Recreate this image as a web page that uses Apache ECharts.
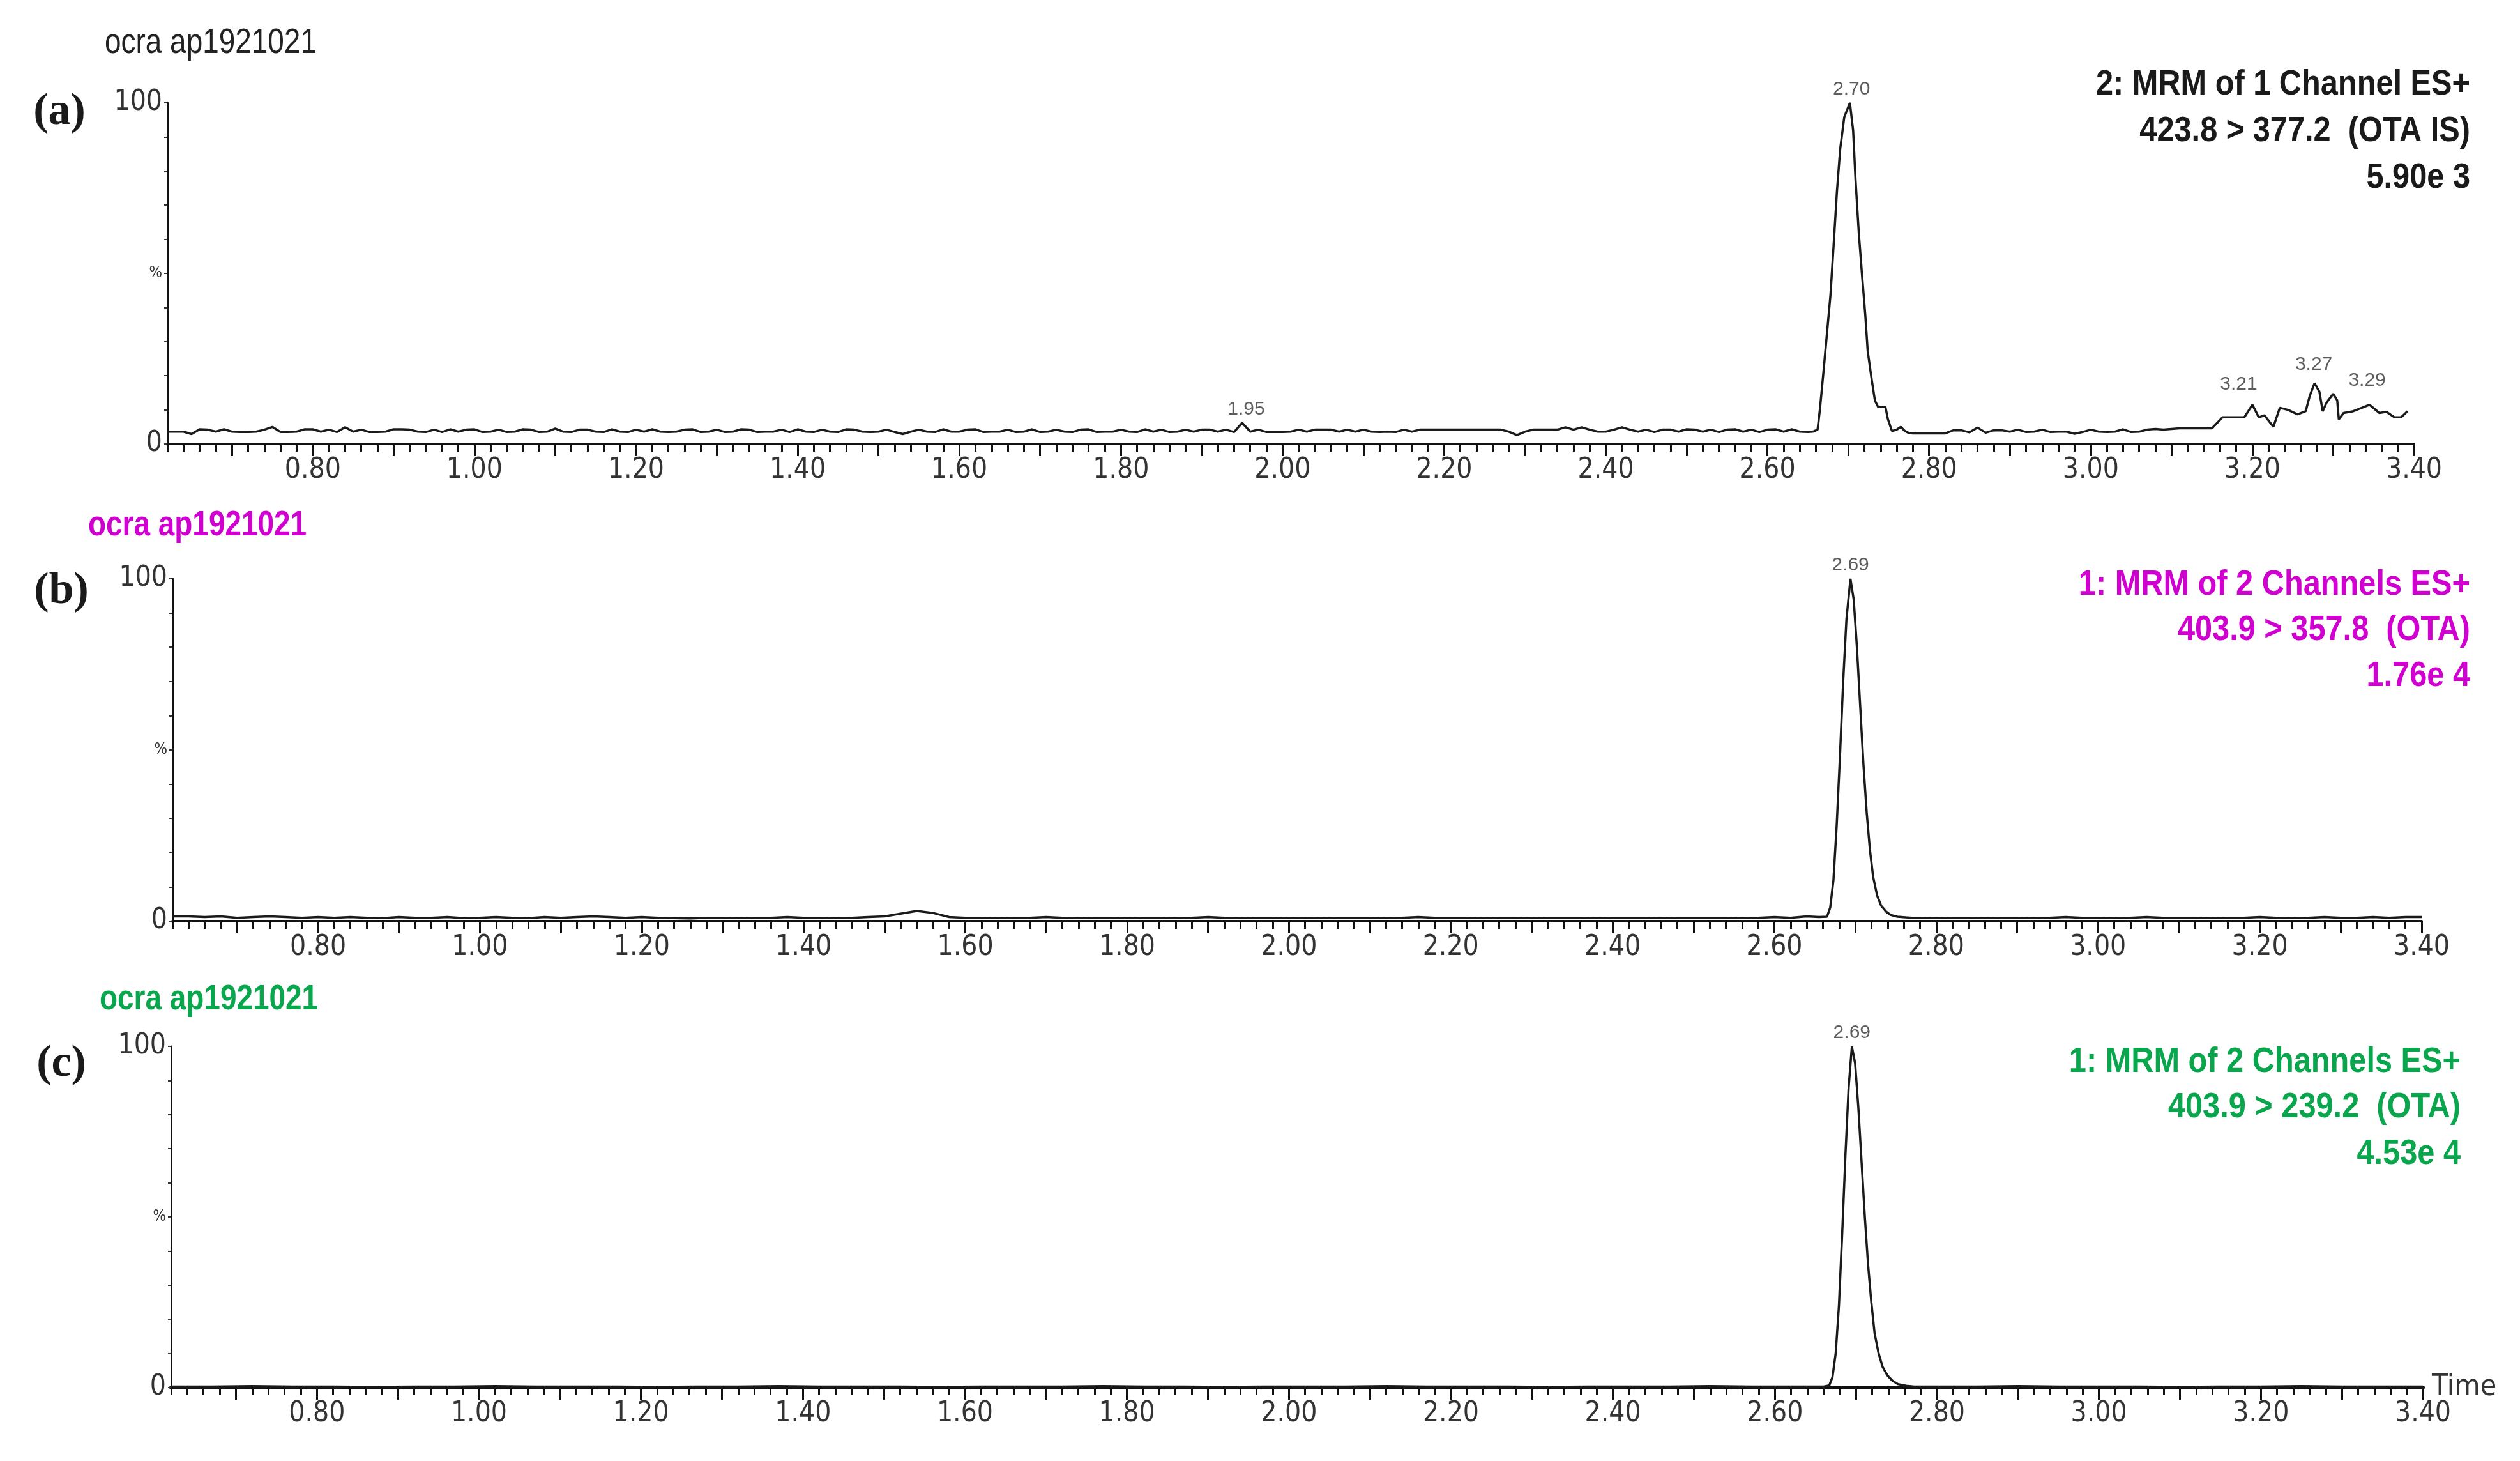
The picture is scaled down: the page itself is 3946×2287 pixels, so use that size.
<!DOCTYPE html>
<html>
<head>
<meta charset="utf-8">
<script src="https://cdn.jsdelivr.net/npm/echarts@6/dist/echarts.min.js"></script>
<style>
  html, body { margin: 0; padding: 0; background: #fff; }
  #chart { width: 3946px; height: 2287px; }
</style>
</head>
<body>
<div id="chart"></div>
<script>
// time axis (min)
const X_MIN = 0.62;
const X_MAX = 3.40;
const minorStep = 0.02;
const majorTicks = [0.7, 0.8, 0.9, 1.0, 1.1, 1.2, 1.3, 1.4, 1.5, 1.6, 1.7, 1.8, 1.9, 2.0, 2.1, 2.2, 2.3, 2.4, 2.5, 2.6, 2.7, 2.8, 2.9, 3.0, 3.1, 3.2, 3.3, 3.4];
const xLabels = [0.8, 1.0, 1.2, 1.4, 1.6, 1.8, 2.0, 2.2, 2.4, 2.6, 2.8, 3.0, 3.2, 3.4];

// (a) 423.8 > 377.2 (OTA IS) - baseline sampled every 0.01 min from 0.62
const baseA1 = [
  3.6, 3.6, 3.6, 2.9, 4.3, 4.2, 3.6, 4.3, 3.6, 3.5,
  3.5, 3.6, 4.2, 5.0, 3.5, 3.5, 3.6, 4.3, 4.3, 3.6,
  4.2, 3.5, 4.9, 3.6, 4.2, 3.5, 3.5, 3.6, 4.3, 4.3,
  4.2, 3.6, 3.5, 4.2, 3.5, 4.3, 3.6, 4.2, 4.3, 3.5,
  3.6, 4.2, 3.5, 3.6, 4.3, 4.2, 3.5, 3.6, 4.5, 3.6,
  3.5, 4.2, 4.2, 3.6, 3.5, 4.3, 3.6, 3.5, 4.2, 3.6,
  4.3, 3.6, 3.5, 3.6, 4.2, 4.3, 3.5, 3.6, 4.2, 3.5,
  3.6, 4.3, 4.2, 3.5, 3.6, 3.6, 4.2, 3.5, 4.3, 3.6,
  3.5, 4.2, 3.6, 3.5, 4.3, 4.2, 3.6, 3.5, 3.6, 4.2,
  3.5, 2.9, 3.6, 4.2, 3.6, 3.5, 4.3, 3.6, 3.6, 4.2,
  4.3, 3.5, 3.6, 3.6, 4.2, 3.5, 3.6, 4.3, 3.5, 3.6,
  4.2, 3.6, 3.5, 4.2, 4.3, 3.5, 3.6, 3.6, 4.2, 3.6,
  3.5, 4.3, 3.6, 4.2, 3.5, 3.6, 4.2, 3.6, 4.2, 4.2,
  3.6, 4.2, 3.5, 6.2, 3.6, 4.2, 3.5, 3.5, 3.5, 3.6,
  4.2, 3.6, 4.2, 4.2, 4.2, 3.6, 4.2, 3.6, 4.2, 3.6,
  3.5, 3.6, 3.5, 4.2, 3.6, 4.2, 4.2, 4.2, 4.2, 4.2,
  4.2, 4.2, 4.2, 4.2, 4.2, 4.2, 3.6, 2.6, 3.6, 4.2,
  4.2, 4.2, 4.2, 4.9, 4.2, 4.9, 4.2, 3.6, 3.6, 4.2,
  4.9, 4.2, 3.6, 4.2, 3.5, 4.2, 4.2, 3.6, 4.3, 4.2,
  3.6, 4.2, 3.5, 4.2, 4.3, 3.6, 4.2, 3.5, 4.2, 4.3,
  3.6, 4.3, 3.6, 3.5
];
const peakA = [
  [2.656, 3.6], [2.662, 4.2], [2.665, 10.4], [2.669, 20.4], [2.673, 30.8], [2.678, 43.8],
  [2.682, 58.8], [2.686, 74.2], [2.690, 86.5], [2.695, 95.8], [2.702, 100], [2.706, 91.9],
  [2.709, 77.3], [2.713, 61.9], [2.717, 49.6], [2.721, 38.0], [2.724, 27.3], [2.729, 18.8],
  [2.733, 12.7], [2.737, 10.8], [2.746, 10.8], [2.749, 7.3], [2.754, 3.8], [2.760, 4.2],
  [2.765, 5.0], [2.770, 3.8], [2.775, 3.2]
];
// from 2.78, every 0.01 min
const baseA2 = [
  3.1, 3.1, 3.1, 3.1, 3.1, 4.0, 4.0, 3.4, 4.8, 3.3, 4.0, 4.0,
  3.6, 4.2, 3.5, 3.6, 4.2, 3.5, 3.6, 3.6, 3.0, 3.5, 4.2, 3.6, 3.5,
  3.6, 4.3, 3.5, 3.6, 4.2, 4.4, 4.2, 4.4, 4.6, 4.6, 4.6, 4.6, 4.6
];
const tailA = [
  [3.163, 7.8], [3.190, 7.8], [3.200, 11.5], [3.208, 7.8], [3.215, 8.4], [3.226, 5.0],
  [3.234, 10.6], [3.244, 10.0], [3.256, 8.7], [3.266, 9.6], [3.271, 14.1], [3.277, 17.8],
  [3.283, 15.3], [3.287, 9.6], [3.292, 12.2], [3.300, 14.7], [3.305, 12.8], [3.307, 7.2],
  [3.313, 9.1], [3.325, 9.6], [3.345, 11.5], [3.357, 9.1], [3.366, 9.4], [3.376, 7.8],
  [3.384, 7.8], [3.392, 9.6]
];

// (b) 403.9 > 357.8 (OTA) - baseline every 0.02 min from 0.62
const baseB1 = [
  1.4, 1.4, 1.2, 1.4, 1.0, 1.2, 1.4, 1.2, 1.0, 1.2,
  1.0, 1.2, 1.0, 0.9, 1.2, 1.0, 1.0, 1.2, 0.9, 1.0,
  1.2, 1.0, 0.9, 1.2, 1.0, 1.2, 1.4, 1.2, 1.0, 1.2,
  1.0, 0.9, 0.8, 1.0, 1.0, 0.9, 1.0, 1.0, 1.2, 1.0,
  1.0, 0.9, 1.0, 1.2, 1.4, 2.2, 3.0, 2.4, 1.2, 1.0,
  1.0, 0.9, 1.0, 1.0, 1.2, 1.0, 0.9, 1.0, 1.0, 0.9,
  1.0, 1.0, 0.9, 1.0, 1.2, 1.0, 0.9, 1.0, 1.0, 0.9,
  1.0, 0.9, 1.0, 1.0, 1.0, 0.9, 1.0, 1.2, 1.0, 1.0,
  1.0, 0.9, 1.0, 1.0, 0.9, 1.0, 1.0, 1.0, 0.9, 1.0,
  1.0, 1.0, 0.9, 1.0, 1.0, 1.0, 1.0, 0.9, 1.0, 1.2,
  1.0, 1.4
];
const peakB = [
  [2.655, 1.2], [2.665, 1.3], [2.669, 4], [2.673, 12], [2.677, 28], [2.681, 48], [2.685, 70],
  [2.689, 88], [2.694, 100], [2.698, 94], [2.702, 80], [2.706, 63], [2.710, 46], [2.714, 32],
  [2.718, 21], [2.722, 13], [2.727, 7.5], [2.732, 4.5], [2.738, 2.8], [2.744, 1.8],
  [2.752, 1.3], [2.762, 1.1], [2.770, 1.0]
];
// from 2.78, every 0.02 min
const baseB2 = [
  1.0, 0.9, 1.0, 1.0, 0.9, 1.0, 1.0, 0.9, 1.0, 1.2, 1.0, 1.0, 0.9, 1.0, 1.2, 1.0,
  1.0, 1.0, 0.9, 1.0, 1.0, 1.2, 1.0, 0.9, 1.0, 1.2, 1.0, 1.0, 1.2, 1.0, 1.2, 1.2
];

// (c) 403.9 > 239.2 (OTA) - baseline every 0.05 min from 0.62
const baseC1 = [
  0.3, 0.3, 0.4, 0.3, 0.3, 0.2, 0.3, 0.3, 0.4, 0.3,
  0.3, 0.3, 0.2, 0.3, 0.3, 0.4, 0.3, 0.3, 0.3, 0.2,
  0.3, 0.3, 0.3, 0.4, 0.3, 0.3, 0.2, 0.3, 0.3, 0.3,
  0.4, 0.3, 0.3, 0.3, 0.2, 0.3, 0.3, 0.3, 0.4, 0.3,
  0.3
];
const peakC = [
  [2.650, 0.3], [2.660, 0.3], [2.667, 0.6], [2.671, 3], [2.675, 10], [2.679, 24], [2.683, 45],
  [2.687, 68], [2.691, 88], [2.695, 100], [2.699, 95], [2.703, 82], [2.707, 66], [2.711, 50],
  [2.715, 36], [2.719, 25], [2.723, 16], [2.728, 10], [2.733, 6], [2.739, 3.5], [2.745, 2],
  [2.752, 1], [2.762, 0.5], [2.772, 0.3]
];
// from 2.80, every 0.05 min
const baseC2 = [0.3, 0.3, 0.4, 0.3, 0.3, 0.3, 0.2, 0.3, 0.3, 0.4, 0.3, 0.3, 0.3];

// peak apex annotations [time, intensity, text]
const labelsA = [[2.704, 100, '2.70'], [1.955, 6.2, '1.95'], [3.183, 13.5, '3.21'], [3.276, 19.3, '3.27'], [3.342, 14.6, '3.29']];
const labelsB = [[2.694, 100, '2.69']];
const labelsC = [[2.695, 100, '2.69']];

const MAGENTA = '#d000d0';
const GREEN = '#0aa64e';
const NARROW = "'DejaVu Sans Condensed', 'Liberation Sans Narrow', sans-serif";
const SANS = "'Liberation Sans', Arial, sans-serif";

function seq(start, step, values) {
  return values.map((v, i) => [+(start + i * step).toFixed(3), v]);
}

const traceA = seq(0.62, 0.01, baseA1).concat(peakA, seq(2.78, 0.01, baseA2), tailA);
const traceB = seq(0.62, 0.02, baseB1).concat(peakB, seq(2.78, 0.02, baseB2));
const traceC = seq(0.62, 0.05, baseC1).concat(peakC, seq(2.80, 0.05, baseC2));

const grids = [
  { left: 262, right: 166, top: 161, height: 534 },
  { left: 270, right: 154, top: 906, height: 536 },
  { left: 268, right: 152, top: 1638, height: 534 }
];

function makeX(gi, lineWidth, name) {
  const minor = {
    type: 'value', gridIndex: gi, min: X_MIN, max: X_MAX, interval: minorStep, position: 'bottom',
    axisLine: { show: true, lineStyle: { color: '#111', width: lineWidth } },
    axisTick: { show: true, length: 12, lineStyle: { color: '#111', width: 3 } },
    axisLabel: { show: false },
    splitLine: { show: false }
  };
  if (name) {
    minor.name = name;
    minor.nameLocation = 'end';
    minor.nameGap = 14;
    minor.nameTextStyle = { fontSize: 46, color: '#333', fontFamily: NARROW, verticalAlign: 'middle' };
  }
  const major = {
    type: 'value', gridIndex: gi, min: X_MIN, max: X_MAX, position: 'bottom',
    axisLine: { show: false },
    axisTick: { show: true, length: 19, customValues: majorTicks, lineStyle: { color: '#111', width: 3 } },
    axisLabel: {
      show: true, customValues: xLabels, formatter: v => v.toFixed(2),
      fontSize: 44, color: '#333', fontFamily: NARROW, margin: 20
    },
    splitLine: { show: false }
  };
  return [minor, major];
}

function makeY(gi) {
  return {
    type: 'value', gridIndex: gi, min: 0, max: 100, interval: 10,
    axisLine: { show: true, lineStyle: { color: '#111', width: 3 } },
    axisTick: { show: true, length: 5, lineStyle: { color: '#333', width: 2 } },
    axisLabel: {
      show: true, margin: 8, fontSize: 44, color: '#333', fontFamily: NARROW,
      showMinLabel: true, showMaxLabel: true,
      formatter: v => (v === 100 ? '100' : v === 0 ? '0' : v === 50 ? '{p|%}' : ''),
      rich: { p: { fontSize: 24, color: '#333', fontFamily: NARROW } }
    },
    splitLine: { show: false }
  };
}

function trace(xi, yi, data) {
  return {
    type: 'line', xAxisIndex: xi, yAxisIndex: yi, data: data,
    showSymbol: false, symbol: 'none', smooth: false,
    lineStyle: { color: '#1a1a1a', width: 3.5 }, z: 3
  };
}

function apex(xi, yi, data) {
  return {
    type: 'scatter', xAxisIndex: xi, yAxisIndex: yi, data: data,
    symbolSize: 1, itemStyle: { color: 'rgba(0,0,0,0)' }, silent: true,
    label: {
      show: true, position: 'top', distance: 6, formatter: p => p.data[2],
      fontSize: 30, color: '#333', fontFamily: SANS
    }
  };
}

// narrow look: Arial metrics squeezed horizontally about the anchor point
function txt(x, y, text, opts, sx) {
  return {
    type: 'text', x: x, y: y, silent: true, scaleX: sx || 1,
    style: Object.assign({
      text: text, fontSize: 56, fontFamily: SANS, fill: '#1a1a1a',
      align: 'left', verticalAlign: 'middle'
    }, opts || {})
  };
}

const letterFont = { fontSize: 70, fontWeight: 'bold', fontFamily: "'Liberation Serif', 'DejaVu Serif', serif", align: 'center' };
const R = { align: 'right', fontWeight: 'bold' };

const graphics = [
  txt(164, 68, 'ocra ap1921021', { fill: '#222' }, 0.82),
  txt(138, 823, 'ocra ap1921021', { fill: MAGENTA, fontWeight: 'bold' }, 0.82),
  txt(156, 1565, 'ocra ap1921021', { fill: GREEN, fontWeight: 'bold' }, 0.82),
  txt(93, 176, '(a)', letterFont),
  txt(96, 926, '(b)', letterFont),
  txt(96, 1666, '(c)', letterFont),
  txt(3868, 133, '2: MRM of 1 Channel ES+', R, 0.87),
  txt(3868, 206, '423.8 > 377.2  (OTA IS)', R, 0.87),
  txt(3868, 279, '5.90e 3', R, 0.87),
  txt(3868, 916, '1: MRM of 2 Channels ES+', Object.assign({ fill: MAGENTA }, R), 0.87),
  txt(3868, 987, '403.9 > 357.8  (OTA)', Object.assign({ fill: MAGENTA }, R), 0.87),
  txt(3868, 1059, '1.76e 4', Object.assign({ fill: MAGENTA }, R), 0.87),
  txt(3853, 1663, '1: MRM of 2 Channels ES+', Object.assign({ fill: GREEN }, R), 0.87),
  txt(3853, 1734, '403.9 > 239.2  (OTA)', Object.assign({ fill: GREEN }, R), 0.87),
  txt(3853, 1807, '4.53e 4', Object.assign({ fill: GREEN }, R), 0.87)
];

const chart = echarts.init(document.getElementById('chart'), null, { renderer: 'canvas' });
chart.setOption({
  animation: false,
  backgroundColor: '#fff',
  grid: grids,
  xAxis: [].concat(makeX(0, 4, null), makeX(1, 4, null), makeX(2, 6, 'Time')),
  yAxis: [makeY(0), makeY(1), makeY(2)],
  series: [
    trace(0, 0, traceA), apex(0, 0, labelsA),
    trace(2, 1, traceB), apex(2, 1, labelsB),
    trace(4, 2, traceC), apex(4, 2, labelsC)
  ],
  graphic: graphics
});
</script>
</body>
</html>
